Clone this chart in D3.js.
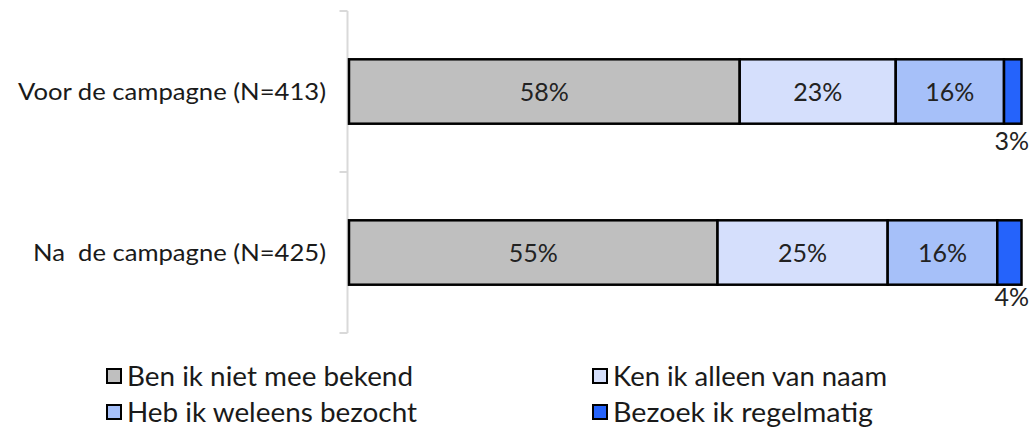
<!DOCTYPE html>
<html><head><meta charset="utf-8">
<script src="https://cdn.jsdelivr.net/npm/d3@7"></script>
<style>
html,body{margin:0;padding:0;background:#fff;}
svg{display:block;font-family:Lato,"Open Sans",sans-serif;}
</style></head>
<body>
<svg id="chart" width="1036" height="427"></svg>
<script>
const categories = ["Voor de campagne (N=413)", "Na  de campagne (N=425)"];
const seriesNames = ["Ben ik niet mee bekend", "Ken ik alleen van naam", "Heb ik weleens bezocht", "Bezoek ik regelmatig"];
const seriesColors = ["#bfbfbf", "#d5dffc", "#a6c0f9", "#2563fb"];
const valuesVoor = [58.1, 23.2, 16.1, 2.6];
const valuesNa = [54.8, 25.3, 16.3, 3.6];
const valueLabelsVoor = ["58%", "23%", "16%", "3%"];
const valueLabelsNa = ["55%", "25%", "16%", "4%"];

const rows = [
  {cat: categories[0], vals: valuesVoor, labels: valueLabelsVoor},
  {cat: categories[1], vals: valuesNa, labels: valueLabelsNa}
];

const svg = d3.select("#chart");
const x = d3.scaleLinear().domain([0, 100]).range([349, 1021.5]);
const y = d3.scaleBand().domain(categories).range([11, 333]).paddingInner(0.6).paddingOuter(0.3);

// axis
const axis = d3.axisLeft(y).tickSize(0).tickFormat("");
const ag = svg.append("g").attr("transform", "translate(347.5,0)").call(axis);
ag.select(".domain").remove();
ag.append("line").attr("y1", 11).attr("y2", 333).attr("stroke", "#d9d9d9").attr("stroke-width", 2);
const bounds = [11, (11 + 333) / 2, 333];
ag.selectAll("line.tk").data(bounds).enter().append("line").attr("class", "tk")
  .attr("x1", -8).attr("x2", 0).attr("y1", d => d).attr("y2", d => d)
  .attr("stroke", "#d9d9d9").attr("stroke-width", 2);

// category labels
const catWidths = [308, 293];
svg.selectAll("text.cat").data(categories).enter().append("text").attr("class", "cat")
  .attr("x", 326).attr("y", d => y(d) + y.bandwidth() / 2)
  .attr("dy", "0.38em").attr("text-anchor", "end")
  .attr("font-size", 23).attr("fill", "#1a1a1a")
  .style("white-space", "pre").attr("xml:space", "preserve")
  .attr("textLength", (d, i) => catWidths[i]).attr("lengthAdjust", "spacingAndGlyphs")
  .text(d => d);

// bars
rows.forEach((r, ri) => {
  let cum = 0;
  const segs = r.vals.map((v, i) => { const s = {x0: cum, x1: cum + v, i, label: r.labels[i]}; cum += v; return s; });
  const g = svg.append("g");
  const y0 = y(r.cat), bh = y.bandwidth();
  g.selectAll("rect").data(segs).enter().append("rect")
    .attr("x", d => x(d.x0)).attr("y", y0)
    .attr("width", d => x(d.x1) - x(d.x0)).attr("height", bh)
    .attr("fill", d => seriesColors[d.i]).attr("stroke", "#000").attr("stroke-width", 2.5);
  g.selectAll("text").data(segs).enter().append("text")
    .attr("x", d => d.i === 3 ? 1029 : (x(d.x0) + x(d.x1)) / 2)
    .attr("y", d => d.i === 3 ? y0 + bh + (ri === 0 ? 26 : 21) : y0 + bh / 2)
    .attr("dy", d => d.i === 3 ? "0" : "0.38em")
    .attr("text-anchor", d => d.i === 3 ? "end" : "middle")
    .attr("font-size", 25).attr("fill", "#222")
    .text(d => d.label);
});

// legend
const legX = [107, 593], legY = [376, 412];
const legW = [286, 274, 290, 260];
const lg = svg.append("g");
seriesNames.forEach((n, i) => {
  const lx = legX[i % 2], ly = legY[Math.floor(i / 2)];
  lg.append("rect").attr("x", lx).attr("y", ly - 7).attr("width", 14).attr("height", 14)
    .attr("fill", seriesColors[i]).attr("stroke", "#000").attr("stroke-width", 2);
  lg.append("text").attr("x", lx + 20).attr("y", ly).attr("dy", "0.38em")
    .attr("font-size", 27).attr("fill", "#1a1a1a")
    .attr("textLength", legW[i]).attr("lengthAdjust", "spacingAndGlyphs")
    .text(n);
});
</script>
</body></html>
